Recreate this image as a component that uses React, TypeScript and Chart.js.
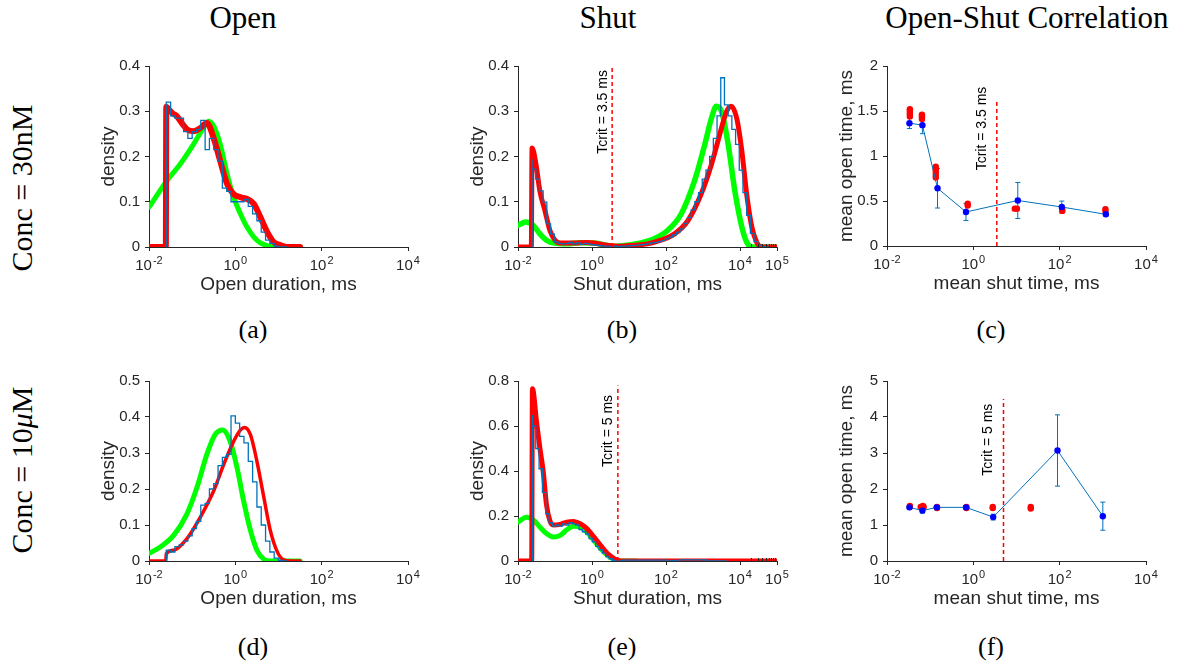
import React, { useEffect, useRef } from "react";
import { Chart, registerables } from "chart.js";

Chart.register(...registerables);

const SANS = "'Liberation Sans', Arial, Helvetica, sans-serif";
const SERIF = "'Liberation Serif', 'Times New Roman', Times, serif";
const AXIS = "#262626";
const RED = "#ff0000";
const GREEN = "#00ff00";
const HIST = "rgb(0,114,189)";
const DOT_BLUE = "#0000ff";

const YW = 52, XH = 49, PAD_T = 12, PAD_R = 24;

// ---------- tick definitions (base 10, exponent shown as superscript) ----------
const xTicks4 = [0.01, 1, 100, 10000];
const xTickExp4 = ["-2", "0", "2", "4"];
const xTicks5 = [0.01, 1, 100, 10000, 100000];
const xTickExp5 = ["-2", "0", "2", "4", "5"];
const xMinorTicks5 = [20000, 30000, 40000, 50000, 60000, 70000, 80000, 90000];

// ---------- (a) Open, 30nM (x values are log10 of duration in ms) ----------
const openA_redLogX = [-2, -1.61, -1.6, -1.55, -1.45, -1.36, -1.25, -1.12, -0.97, -0.81, -0.66, -0.5, -0.35, -0.19, -0.04, 0.12, 0.27, 0.43, 0.58, 0.74, 0.89, 1.05, 1.2, 1.5];
const openA_redY = [0, 0, 0.31, 0.305, 0.295, 0.29, 0.275, 0.26, 0.256, 0.263, 0.274, 0.24, 0.19, 0.139, 0.117, 0.11, 0.106, 0.095, 0.066, 0.033, 0.011, 0.004, 0, 0];
const openA_greenLogX = [-2, -1.59, -1.28, -0.97, -0.74, -0.62, -0.5, -0.35, -0.19, -0.04, 0.12, 0.27, 0.43, 0.58, 0.74, 0.89, 1.5];
const openA_greenY = [0.088, 0.146, 0.183, 0.227, 0.263, 0.278, 0.267, 0.227, 0.161, 0.11, 0.073, 0.044, 0.022, 0.009, 0.003, 0, 0];
const openA_histLogX = [-1.6, -1.6, -1.5, -1.4, -1.3, -1.2, -1.1, -1.0, -0.9, -0.8, -0.7, -0.6, -0.5, -0.4, -0.3, -0.2, -0.1, 0, 0.1, 0.2, 0.3, 0.4, 0.5, 0.6, 0.7, 0.8, 0.9, 1.0, 1.1, 1.2];
const openA_histY = [0, 0.307, 0.32, 0.29, 0.285, 0.285, 0.255, 0.24, 0.255, 0.26, 0.28, 0.215, 0.24, 0.215, 0.19, 0.13, 0.123, 0.1, 0.1, 0.1, 0.105, 0.09, 0.073, 0.058, 0.033, 0.015, 0.008, 0.002, 0, 0];

// ---------- (b) Shut, 30nM ----------
const shutB_redLogX = [-2, -1.64, -1.62, -1.5, -1.41, -1.27, -1.14, -1.0, -0.86, -0.5, -0.14, 0.05, 0.41, 0.77, 1.14, 1.5, 1.86, 2.23, 2.59, 2.95, 3.23, 3.5, 3.64, 3.76, 3.91, 4.05, 4.18, 4.32, 4.45, 4.59, 5];
const shutB_redY = [0, 0, 0.219, 0.175, 0.124, 0.08, 0.037, 0.015, 0.009, 0.009, 0.01, 0.009, 0.004, 0.0015, 0.004, 0.007, 0.015, 0.029, 0.058, 0.117, 0.183, 0.263, 0.3, 0.311, 0.285, 0.212, 0.117, 0.044, 0.011, 0, 0];
const shutB_greenLogX = [-2, -1.79, -1.59, -1.41, -1.23, -1.05, -0.68, -0.32, 0.05, 0.32, 0.59, 0.95, 1.32, 1.68, 2.05, 2.41, 2.77, 3.05, 3.23, 3.36, 3.5, 3.68, 3.86, 4.05, 4.18, 4.32, 5];
const shutB_greenY = [0.048, 0.055, 0.048, 0.029, 0.015, 0.009, 0.007, 0.0095, 0.009, 0.005, 0.0015, 0.004, 0.009, 0.018, 0.037, 0.073, 0.146, 0.227, 0.285, 0.311, 0.3, 0.227, 0.124, 0.044, 0.011, 0, 0];
const shutB_histLogX = [-1.62, -1.62, -1.52, -1.42, -1.32, -1.22, -1.12, -1.02, -0.92, -0.82, -0.72, -0.62, -0.52, -0.42, -0.32, -0.22, -0.12, -0.02, 0.08, 0.18, 0.28, 0.38, 0.48, 0.58, 0.68, 0.78, 0.88, 0.98, 1.08, 1.18, 1.28, 1.38, 1.48, 1.58, 1.68, 1.78, 1.88, 1.98, 2.08, 2.18, 2.28, 2.38, 2.48, 2.58, 2.68, 2.78, 2.88, 2.98, 3.08, 3.18, 3.28, 3.38, 3.48, 3.58, 3.68, 3.78, 3.88, 3.98, 4.08, 4.18, 4.28, 4.38, 4.48, 4.58, 4.68, 4.78];
const shutB_histY = [0, 0.194, 0.172, 0.15, 0.124, 0.099, 0.051, 0.029, 0.011, 0.008, 0.007, 0.008, 0.01, 0.007, 0.009, 0.006, 0.008, 0.007, 0.005, 0.004, 0.003, 0.002, 0.002, 0.001, 0.002, 0.001, 0.002, 0.002, 0.003, 0.003, 0.004, 0.005, 0.006, 0.007, 0.009, 0.01, 0.012, 0.014, 0.018, 0.022, 0.027, 0.033, 0.04, 0.052, 0.065, 0.082, 0.1, 0.12, 0.15, 0.17, 0.2, 0.24, 0.29, 0.374, 0.314, 0.29, 0.26, 0.227, 0.17, 0.12, 0.07, 0.03, 0.012, 0.004, 0.001, 0];

// ---------- (c) Open-Shut correlation, 30nM ----------
const corrC_blueLogX = [-1.48, -1.18, -0.83, -0.17, 1.03, 2.05, 3.07];
const corrC_blueY = [1.365, 1.343, 0.642, 0.378, 0.506, 0.433, 0.352];
const corrC_blueErr = [0.06, 0.095, 0.22, 0.095, 0.2, 0.066, 0.02];
const corrC_redLogX = [-1.47, -1.47, -1.47, -1.47, -1.47, -1.19, -1.19, -1.19, -1.19, -0.87, -0.87, -0.87, -0.87, -0.87, -0.13, -0.13, 0.96, 1.01, 2.06, 2.06, 3.06, 3.06];
const corrC_redY = [1.44, 1.46, 1.48, 1.5, 1.52, 1.41, 1.43, 1.45, 1.46, 0.76, 0.79, 0.82, 0.85, 0.88, 0.45, 0.47, 0.415, 0.415, 0.39, 0.41, 0.39, 0.41];

// ---------- (d) Open, 10uM ----------
const openD_redLogX = [-2, -1.61, -1.6, -1.43, -1.12, -0.81, -0.5, -0.27, -0.04, 0.12, 0.21, 0.35, 0.5, 0.66, 0.81, 0.97, 1.12, 1.28, 1.5];
const openD_redY = [0, 0, 0.02, 0.03, 0.062, 0.122, 0.195, 0.268, 0.332, 0.364, 0.371, 0.351, 0.277, 0.177, 0.085, 0.026, 0.003, 0, 0];
const openD_greenLogX = [-2, -1.74, -1.43, -1.12, -0.89, -0.66, -0.47, -0.29, -0.12, 0.04, 0.19, 0.35, 0.5, 0.66, 0.81, 1.5];
const openD_greenY = [0.021, 0.039, 0.071, 0.131, 0.204, 0.296, 0.351, 0.364, 0.332, 0.259, 0.168, 0.085, 0.03, 0.005, 0, 0];
const openD_histLogX = [-1.6, -1.6, -1.5, -1.4, -1.3, -1.2, -1.1, -1.0, -0.9, -0.8, -0.7, -0.6, -0.5, -0.4, -0.3, -0.2, -0.1, 0, 0.1, 0.2, 0.3, 0.4, 0.5, 0.6, 0.7, 0.8, 0.9, 1.0, 1.1, 1.2];
const openD_histY = [0, 0.027, 0.03, 0.025, 0.04, 0.045, 0.055, 0.07, 0.09, 0.11, 0.155, 0.16, 0.2, 0.215, 0.265, 0.288, 0.296, 0.403, 0.383, 0.346, 0.328, 0.277, 0.22, 0.15, 0.1, 0.055, 0.025, 0.008, 0.002, 0];

// ---------- (e) Shut, 10uM ----------
const shutE_redLogX = [-2, -1.63, -1.61, -1.5, -1.41, -1.32, -1.23, -1.14, -1.05, -0.86, -0.68, -0.5, -0.32, -0.14, 0.05, 0.23, 0.41, 0.59, 0.73, 0.86, 5];
const shutE_redY = [0, 0, 0.766, 0.62, 0.503, 0.4, 0.25, 0.18, 0.16, 0.163, 0.173, 0.176, 0.166, 0.144, 0.107, 0.07, 0.034, 0.012, 0.0015, 0, 0];
const shutE_greenLogX = [-2, -1.77, -1.59, -1.41, -1.23, -1.05, -0.86, -0.68, -0.5, -0.32, -0.14, 0.05, 0.23, 0.41, 0.59, 0.77, 1.2];
const shutE_greenY = [0.173, 0.195, 0.183, 0.151, 0.122, 0.107, 0.114, 0.139, 0.154, 0.151, 0.129, 0.092, 0.056, 0.026, 0.007, 0, 0];
const shutE_histLogX = [-1.61, -1.61, -1.52, -1.43, -1.34, -1.25, -1.16, -1.07, -0.98, -0.89, -0.8, -0.71, -0.62, -0.53, -0.44, -0.35, -0.26, -0.17, -0.08, 0.01, 0.1, 0.19, 0.28, 0.37, 0.46, 0.55, 0.64, 0.73, 0.82, 2.05, 2.15, 2.25, 2.35, 3.1, 3.2, 3.64];
const shutE_histY = [0, 0.649, 0.6, 0.5, 0.41, 0.305, 0.21, 0.17, 0.155, 0.16, 0.155, 0.165, 0.16, 0.17, 0.165, 0.16, 0.14, 0.13, 0.12, 0.1, 0.085, 0.065, 0.05, 0.035, 0.02, 0.01, 0.003, 0.001, 0.001, 0.004, 0.001, 0.003, 0.001, 0.005, 0.001, 0];

// ---------- (f) Open-Shut correlation, 10uM ----------
const corrF_blueLogX = [-1.48, -1.18, -0.85, -0.17, 0.46, 1.95, 3.0];
const corrF_blueY = [1.49, 1.4, 1.49, 1.49, 1.22, 3.07, 1.245];
const corrF_blueErr = [0.05, 0.07, 0.05, 0.05, 0.08, 0.99, 0.39];
const corrF_redLogX = [-1.47, -1.47, -1.22, -1.15, -1.17, -0.84, -0.84, -0.16, -0.16, 0.45, 0.45, 1.33, 1.33];
const corrF_redY = [1.53, 1.5, 1.5, 1.5, 1.53, 1.47, 1.5, 1.47, 1.5, 1.47, 1.5, 1.46, 1.5];

// ---------- critical times ----------
const tcrit30 = 3.5;
const tcrit10 = 5;

// ---------- helpers ----------
const pts = (lx: number[], y: number[]) => lx.map((e, i) => ({ x: Math.pow(10, e), y: y[i] }));

function curve(lx: number[], y: number[], color: string, width: number, order: number) {
  return {
    data: pts(lx, y), borderColor: color, backgroundColor: color, borderWidth: width,
    pointRadius: 0, cubicInterpolationMode: "monotone", fill: false, order,
    borderCapStyle: "round", borderJoinStyle: "round",
  };
}
function stairs(lx: number[], y: number[], order: number) {
  return { data: pts(lx, y), borderColor: HIST, backgroundColor: HIST, borderWidth: 1.3, pointRadius: 0, stepped: "after", fill: false, order };
}
function vline(x: number, yTop: number, order: number) {
  return {
    data: [{ x, y: 0 }, { x, y: yTop }], borderColor: RED, borderWidth: 1.5, borderDash: [4, 3],
    pointRadius: 0, fill: false, order,
  };
}
function dots(lx: number[], y: number[], order: number) {
  return {
    data: pts(lx, y), showLine: false, pointRadius: 3.2, pointBackgroundColor: RED,
    pointBorderColor: RED, pointBorderWidth: 0, borderColor: RED, order,
  };
}
function linked(lx: number[], y: number[], order: number) {
  return {
    data: pts(lx, y), showLine: true, borderColor: HIST, borderWidth: 1, tension: 0,
    pointRadius: 3.2, pointBackgroundColor: DOT_BLUE, pointBorderColor: DOT_BLUE, pointBorderWidth: 0, order,
  };
}

type Tc = { x: number; labelX: number; labelTop: number; text: string };
type Err = { lx: number[]; y: number[]; e: number[] };
type PanelDef = {
  key: string; left: number; top: number; w: number; h: number;
  xMax: number; xTicks: number[]; xExp: string[]; xMinor?: number[];
  yMax: number; yStep: number; xTitle: string; yTitle: string;
  datasets: any[]; tc?: Tc; err?: Err;
};

const panels: PanelDef[] = [
  {
    key: "a", left: 149, top: 64, w: 259, h: 183, xMax: 1e4, xTicks: xTicks4, xExp: xTickExp4,
    yMax: 0.4, yStep: 0.1, xTitle: "Open duration, ms", yTitle: "density",
    datasets: [
      stairs(openA_histLogX, openA_histY, 0),
      curve(openA_redLogX, openA_redY, RED, 6, 1),
      curve(openA_greenLogX, openA_greenY, GREEN, 5, 2),
    ],
  },
  {
    key: "b", left: 518, top: 64, w: 259, h: 183, xMax: 1e5, xTicks: xTicks5, xExp: xTickExp5, xMinor: xMinorTicks5,
    yMax: 0.4, yStep: 0.1, xTitle: "Shut duration, ms", yTitle: "density",
    datasets: [
      vline(tcrit30, 0.4, -1),
      stairs(shutB_histLogX, shutB_histY, 0),
      curve(shutB_redLogX, shutB_redY, RED, 5, 1),
      curve(shutB_greenLogX, shutB_greenY, GREEN, 5.5, 2),
    ],
    tc: { x: tcrit30, labelX: 2.0, labelTop: 0.391, text: "Tcrit = 3.5 ms" },
  },
  {
    key: "c", left: 887, top: 64, w: 259, h: 182, xMax: 1e4, xTicks: xTicks4, xExp: xTickExp4,
    yMax: 2, yStep: 0.5, xTitle: "mean shut time, ms", yTitle: "mean open time, ms",
    datasets: [
      linked(corrC_blueLogX, corrC_blueY, 0),
      dots(corrC_redLogX, corrC_redY, 1),
      vline(tcrit30, 1.6, 2),
    ],
    tc: { x: tcrit30, labelX: 1.6, labelTop: 1.77, text: "Tcrit = 3.5 ms" },
    err: { lx: corrC_blueLogX, y: corrC_blueY, e: corrC_blueErr },
  },
  {
    key: "d", left: 149, top: 379, w: 259, h: 182, xMax: 1e4, xTicks: xTicks4, xExp: xTickExp4,
    yMax: 0.5, yStep: 0.1, xTitle: "Open duration, ms", yTitle: "density",
    datasets: [
      stairs(openD_histLogX, openD_histY, 0),
      curve(openD_redLogX, openD_redY, RED, 3.5, 1),
      curve(openD_greenLogX, openD_greenY, GREEN, 5, 2),
    ],
  },
  {
    key: "e", left: 518, top: 379, w: 259, h: 182, xMax: 1e5, xTicks: xTicks5, xExp: xTickExp5, xMinor: xMinorTicks5,
    yMax: 0.8, yStep: 0.2, xTitle: "Shut duration, ms", yTitle: "density",
    datasets: [
      vline(tcrit10, 0.78, -1),
      stairs(shutE_histLogX, shutE_histY, 0),
      curve(shutE_redLogX, shutE_redY, RED, 5, 1),
      curve(shutE_greenLogX, shutE_greenY, GREEN, 5, 2),
    ],
    tc: { x: tcrit10, labelX: 2.7, labelTop: 0.738, text: "Tcrit = 5 ms" },
  },
  {
    key: "f", left: 887, top: 379, w: 259, h: 182, xMax: 1e4, xTicks: xTicks4, xExp: xTickExp4,
    yMax: 5, yStep: 1, xTitle: "mean shut time, ms", yTitle: "mean open time, ms",
    datasets: [
      linked(corrF_blueLogX, corrF_blueY, 0),
      dots(corrF_redLogX, corrF_redY, 1),
      vline(tcrit10, 4.5, 2),
    ],
    tc: { x: tcrit10, labelX: 2.16, labelTop: 4.37, text: "Tcrit = 5 ms" },
    err: { lx: corrF_blueLogX, y: corrF_blueY, e: corrF_blueErr },
  },
];

function Panel({ p }: { p: PanelDef }) {
  const ref = useRef<HTMLCanvasElement>(null);
  const cw = YW + p.w + PAD_R;
  const ch = PAD_T + p.h + XH;
  useEffect(() => {
    const overlay = {
      id: "overlay_" + p.key,
      beforeDatasetsDraw(chart: any) {
        if (!p.err) return;
        const { ctx } = chart;
        const xs = chart.scales.x, ys = chart.scales.y;
        ctx.save();
        ctx.strokeStyle = HIST;
        ctx.lineWidth = 1;
        p.err.lx.forEach((e, i) => {
          const px = xs.getPixelForValue(Math.pow(10, e));
          const y1 = ys.getPixelForValue(p.err!.y[i] - p.err!.e[i]);
          const y2 = ys.getPixelForValue(p.err!.y[i] + p.err!.e[i]);
          ctx.beginPath();
          ctx.moveTo(px, y1); ctx.lineTo(px, y2);
          ctx.moveTo(px - 2.5, y1); ctx.lineTo(px + 2.5, y1);
          ctx.moveTo(px - 2.5, y2); ctx.lineTo(px + 2.5, y2);
          ctx.stroke();
        });
        ctx.restore();
      },
      afterDatasetsDraw(chart: any) {
        if (!p.tc) return;
        const { ctx } = chart;
        const px = chart.scales.x.getPixelForValue(p.tc.labelX);
        const py = chart.scales.y.getPixelForValue(p.tc.labelTop);
        ctx.save();
        ctx.translate(px, py);
        ctx.rotate(-Math.PI / 2);
        ctx.font = `14px ${SANS}`;
        ctx.fillStyle = "#000";
        ctx.textAlign = "right";
        ctx.textBaseline = "middle";
        ctx.fillText(p.tc.text, 0, 0);
        ctx.restore();
      },
      afterDraw(chart: any) {
        // log-axis tick labels: "10" with a raised exponent
        const { ctx, chartArea } = chart;
        const xs = chart.scales.x;
        const base = chartArea.bottom + 23;
        ctx.save();
        ctx.fillStyle = AXIS;
        ctx.textBaseline = "alphabetic";
        ctx.textAlign = "left";
        p.xTicks.forEach((v, i) => {
          const px = xs.getPixelForValue(v);
          ctx.font = `15px ${SANS}`;
          const wb = ctx.measureText("10").width;
          ctx.font = `11px ${SANS}`;
          const we = ctx.measureText(p.xExp[i]).width;
          const x0 = px - (wb + 1 + we) / 2;
          ctx.font = `15px ${SANS}`;
          ctx.fillText("10", x0, base);
          ctx.font = `11px ${SANS}`;
          ctx.fillText(p.xExp[i], x0 + wb + 1, base - 6);
        });
        if (p.xMinor) {
          ctx.strokeStyle = AXIS;
          ctx.lineWidth = 1;
          ctx.beginPath();
          p.xMinor.forEach((v) => {
            const px = Math.round(xs.getPixelForValue(v)) + 0.5;
            ctx.moveTo(px, chartArea.bottom);
            ctx.lineTo(px, chartArea.bottom - 3);
          });
          ctx.stroke();
        }
        ctx.restore();
      },
    };
    const chart = new Chart(ref.current!, {
      type: "line",
      data: { datasets: p.datasets as any },
      options: {
        animation: false,
        responsive: false,
        events: [],
        layout: { autoPadding: false, padding: { left: 0, top: PAD_T, right: PAD_R, bottom: 0 } },
        plugins: { legend: { display: false }, tooltip: { enabled: false } },
        scales: {
          x: {
            type: "logarithmic",
            min: 0.01,
            max: p.xMax,
            afterBuildTicks: (s: any) => { s.ticks = p.xTicks.map((v) => ({ value: v })); },
            afterFit: (s: any) => { s.height = XH; },
            ticks: { display: false, autoSkip: false, maxRotation: 0, minRotation: 0, major: { enabled: false } },
            grid: { display: true, drawOnChartArea: false, drawTicks: true, tickLength: 4, color: AXIS },
            border: { display: true, color: AXIS, width: 1 },
            title: { display: true, text: p.xTitle, font: { family: SANS, size: 19 }, color: AXIS, padding: 0 },
          } as any,
          y: {
            type: "linear",
            min: 0,
            max: p.yMax,
            afterFit: (s: any) => { s.width = YW; },
            ticks: {
              stepSize: p.yStep, padding: 5, font: { family: SANS, size: 15 }, color: AXIS,
              callback: (v: any) => String(Number(Number(v).toFixed(2))),
            },
            grid: { display: true, drawOnChartArea: false, drawTicks: true, tickLength: 4, color: AXIS },
            border: { display: true, color: AXIS, width: 1 },
            title: { display: true, text: p.yTitle, font: { family: SANS, size: 19 }, color: AXIS, padding: 0 },
          } as any,
        },
      },
      plugins: [overlay],
    });
    return () => chart.destroy();
  }, []);
  return (
    <canvas
      ref={ref}
      width={cw}
      height={ch}
      style={{ position: "absolute", left: p.left - YW, top: p.top - PAD_T, width: cw, height: ch }}
    />
  );
}

const columnTitles = [
  { text: "Open", x: 243 },
  { text: "Shut", x: 608 },
  { text: "Open-Shut Correlation", x: 1027 },
];
const subLabels = [
  { text: "(a)", x: 253, y: 330 },
  { text: "(b)", x: 622, y: 330 },
  { text: "(c)", x: 991, y: 330 },
  { text: "(d)", x: 253, y: 647 },
  { text: "(e)", x: 622, y: 647 },
  { text: "(f)", x: 991, y: 647 },
];

export default function App() {
  return (
    <div style={{ position: "fixed", left: 0, top: 0, width: 1180, height: 666, background: "#fff", overflow: "hidden" }}>
      {columnTitles.map((t) => (
        <div key={t.text} style={{ position: "absolute", left: t.x, top: 2, transform: "translateX(-50%)", fontFamily: SERIF, fontSize: 31, lineHeight: "31px", whiteSpace: "nowrap", color: "#000" }}>
          {t.text}
        </div>
      ))}
      <div style={{ position: "absolute", left: 22, top: 188, transform: "translate(-50%,-50%) rotate(-90deg)", fontFamily: SERIF, fontSize: 30, lineHeight: "30px", whiteSpace: "nowrap", color: "#000" }}>
        Conc = 30nM
      </div>
      <div style={{ position: "absolute", left: 22, top: 470, transform: "translate(-50%,-50%) rotate(-90deg)", fontFamily: SERIF, fontSize: 30, lineHeight: "30px", whiteSpace: "nowrap", color: "#000" }}>
        Conc = 10<i>μ</i>M
      </div>
      {subLabels.map((t) => (
        <div key={t.text} style={{ position: "absolute", left: t.x, top: t.y, transform: "translate(-50%,-50%)", fontFamily: SERIF, fontSize: 26, lineHeight: "26px", whiteSpace: "nowrap", color: "#000" }}>
          {t.text}
        </div>
      ))}
      {panels.map((p) => (
        <Panel key={p.key} p={p} />
      ))}
    </div>
  );
}
